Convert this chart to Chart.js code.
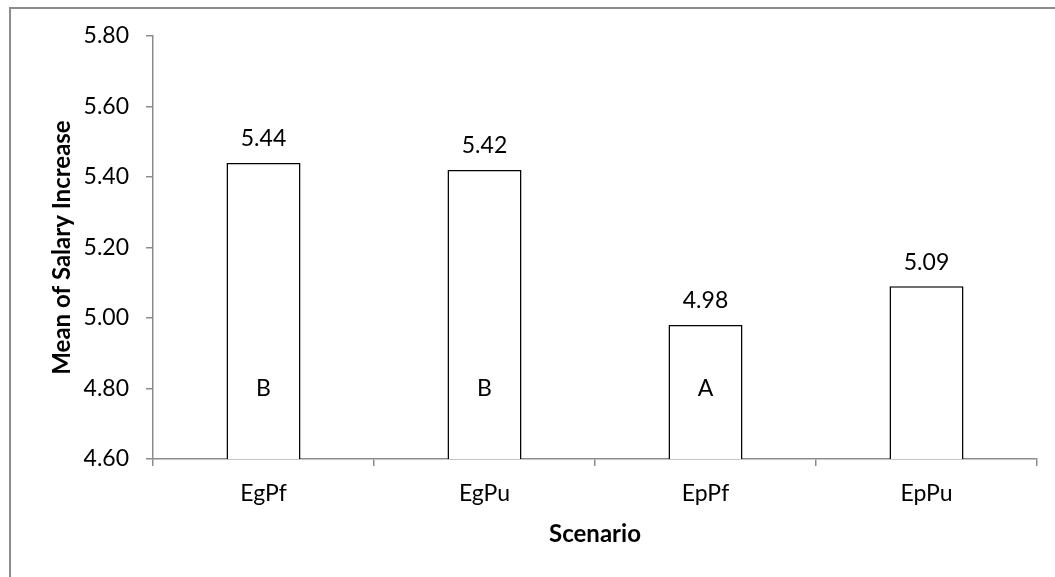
<!DOCTYPE html>
<html>
<head>
<meta charset="utf-8">
<script src="https://cdn.jsdelivr.net/npm/chart.js@4"></script>
<style>
  body { margin: 0; background: #fff; }
  #wrap { width: 1055px; height: 577px; }
</style>
</head>
<body>
<div id="wrap"><canvas id="salaryChart" width="1055" height="577"></canvas></div>
<script>
const scenarios = ['EgPf', 'EgPu', 'EpPf', 'EpPu'];
const meanIncrease = [5.44, 5.42, 4.98, 5.09];
const groupLetters = ['B', 'B', 'A', ''];
const yMin = 4.6, yMax = 5.8, yStep = 0.2;

const fontFamily = 'Lato, "Open Sans", sans-serif';

// outer frame (only top and left edges are visible in the original)
const framePlugin = {
  id: 'frame',
  beforeDraw(chart) {
    const ctx = chart.ctx;
    ctx.save();
    ctx.fillStyle = '#fff';
    ctx.fillRect(0, 0, chart.width, chart.height);
    ctx.strokeStyle = '#8c8c8c';
    ctx.lineWidth = 2;
    ctx.beginPath();
    ctx.moveTo(10, chart.height);
    ctx.lineTo(10, 8);
    ctx.lineTo(chart.width, 8);
    ctx.stroke();
    ctx.restore();
  }
};

// value labels above bars + group letters inside bars
const labelPlugin = {
  id: 'barLabels',
  afterDatasetsDraw(chart) {
    const ctx = chart.ctx;
    const meta = chart.getDatasetMeta(0);
    const yScale = chart.scales.y;
    ctx.save();
    ctx.fillStyle = '#000';
    ctx.textAlign = 'center';
    ctx.textBaseline = 'middle';
    ctx.font = '23px ' + fontFamily;
    meta.data.forEach((bar, i) => {
      ctx.fillText(meanIncrease[i].toFixed(2), bar.x, bar.y - 24);
      if (groupLetters[i]) {
        ctx.fillText(groupLetters[i], bar.x, yScale.getPixelForValue(4.8));
      }
    });
    ctx.restore();
  }
};

new Chart(document.getElementById('salaryChart'), {
  type: 'bar',
  data: {
    labels: scenarios,
    datasets: [{
      data: meanIncrease,
      backgroundColor: '#fff',
      borderColor: '#000',
      borderWidth: 1.5,
      categoryPercentage: 1,
      barPercentage: 0.335
    }]
  },
  options: {
    responsive: false,
    animation: false,
    layout: { padding: { top: 36, right: 18, bottom: 0, left: 0 } },
    plugins: {
      legend: { display: false },
      tooltip: { enabled: false }
    },
    scales: {
      x: {
        afterFit: s => { s.height = 118; },
        grid: { drawOnChartArea: false, tickLength: 7, color: '#8c8c8c', lineWidth: 1.5 },
        border: { color: '#8c8c8c', width: 1.5 },
        ticks: { color: '#000', font: { family: fontFamily, size: 23 }, padding: 14 },
        title: {
          display: true,
          text: 'Scenario',
          color: '#000',
          font: { family: fontFamily, size: 24, weight: 'bold' },
          padding: { top: 0, bottom: 28 }
        }
      },
      y: {
        min: yMin,
        max: yMax,
        afterFit: s => { s.width = 153; },
        grid: { drawOnChartArea: false, tickLength: 7, color: '#8c8c8c', lineWidth: 1.5 },
        border: { color: '#8c8c8c', width: 1.5 },
        ticks: {
          stepSize: yStep,
          color: '#000',
          font: { family: fontFamily, size: 23 },
          padding: 17,
          callback: v => v.toFixed(2)
        },
        title: {
          display: true,
          text: 'Mean of Salary Increase',
          color: '#000',
          font: { family: fontFamily, size: 24, weight: 'bold' },
          padding: { top: 48, bottom: 0 }
        }
      }
    }
  },
  plugins: [framePlugin, labelPlugin]
});
</script>
</body>
</html>
